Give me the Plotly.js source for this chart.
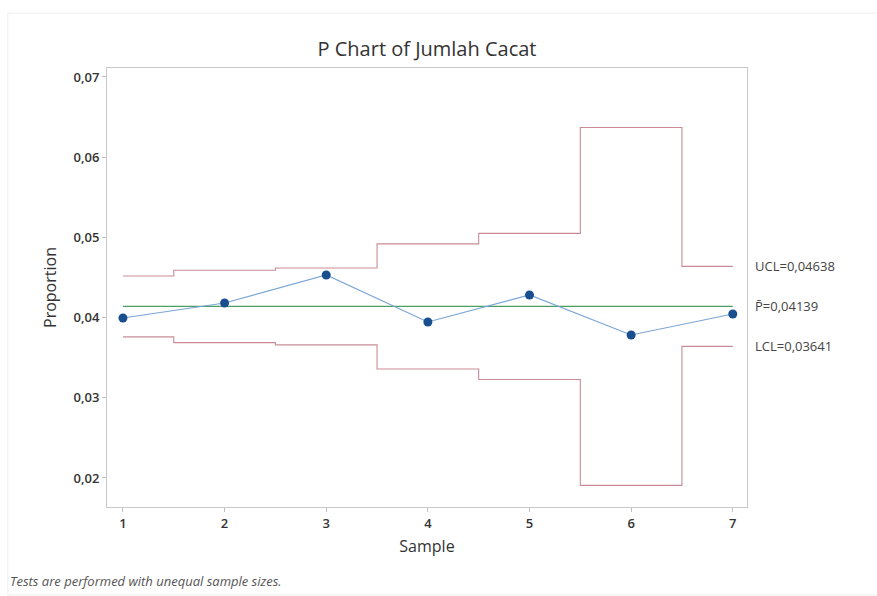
<!DOCTYPE html>
<html>
<head>
<meta charset="utf-8">
<script src="https://cdn.plot.ly/plotly-3.0.1.min.js"></script>
<style>html,body{margin:0;padding:0;background:#fff;}#chart{width:877px;height:596px;}</style>
</head>
<body>
<div id="chart"></div>
<script>
const samples = [1, 2, 3, 4, 5, 6, 7];
const proportion = [0.03995, 0.04182, 0.04531, 0.03945, 0.04282, 0.03783, 0.04045];
const ucl = [0.04519, 0.04590, 0.04618, 0.04919, 0.05050, 0.06370, 0.04638];
const lcl = [0.03759, 0.03688, 0.03660, 0.03359, 0.03228, 0.01908, 0.03641];
const centerLine = 0.04139;
const yTicks = [0.02, 0.03, 0.04, 0.05, 0.06, 0.07];
const labelUCL = "UCL=0,04638";
const labelP = "P\u0304=0,04139";
const labelLCL = "LCL=0,03641";
const footnote = "Tests are performed with unequal sample sizes.";

const font = "Open Sans, Noto Sans, sans-serif";
const limitColor = "#c98c96";

const traces = [
  {x: samples, y: ucl, mode: "lines", line: {shape: "hvh", color: limitColor, width: 1.1}, hoverinfo: "skip"},
  {x: samples, y: lcl, mode: "lines", line: {shape: "hvh", color: limitColor, width: 1.1}, hoverinfo: "skip"},
  {x: [samples[0], samples[samples.length - 1]], y: [centerLine, centerLine], mode: "lines", line: {color: "#4a9e63", width: 1.2}},
  {x: samples, y: proportion, mode: "lines+markers", line: {color: "#7aa6d6", width: 1.2},
   marker: {color: "#1a4f8f", size: 9}}
];

const last = samples[samples.length - 1];
const layout = {
  width: 877, height: 596,
  margin: {l: 107, r: 130, t: 68, b: 89},
  paper_bgcolor: "#ffffff", plot_bgcolor: "#ffffff",
  separators: ",.",
  showlegend: false,
  font: {family: font, color: "#333333"},
  title: {text: "P Chart of Jumlah Cacat", x: 0.5, xref: "paper", y: 0.93, yref: "container",
          font: {family: font, size: 20, color: "#333333", weight: 500}},
  xaxis: {range: [0.843, 7.14], tickvals: samples, ticks: "outside", ticklen: 4, tickcolor: "#bfbfbf",
          showgrid: false, zeroline: false, showline: true, mirror: true, linecolor: "#c8c8c8",
          tickfont: {size: 13, color: "#333", weight: 600},
          title: {text: "Sample", font: {size: 16, color: "#333"}, standoff: 10}},
  yaxis: {range: [0.01638, 0.07112], tickvals: yTicks, tickformat: ".2f", ticks: "outside", ticklen: 4,
          tickcolor: "#bfbfbf", showgrid: false, zeroline: false, showline: true, mirror: true,
          linecolor: "#c8c8c8", tickfont: {size: 13, color: "#333", weight: 600},
          title: {text: "Proportion", font: {size: 16, color: "#333"}, standoff: 12}},
  shapes: [
    {type: "rect", xref: "paper", yref: "paper", x0: -0.155, x1: 1.21, y0: -0.2, y1: 1.125,
     line: {color: "#efefef", width: 1}, fillcolor: "rgba(0,0,0,0)", layer: "below"}
  ],
  annotations: [
    {x: last, y: ucl[ucl.length - 1], xref: "x", yref: "y", text: labelUCL, showarrow: false,
     xanchor: "left", xshift: 20, font: {size: 13, color: "#444"}},
    {x: last, y: centerLine, xref: "x", yref: "y", text: labelP, showarrow: false,
     xanchor: "left", xshift: 20, font: {size: 13, color: "#444"}},
    {x: last, y: lcl[lcl.length - 1], xref: "x", yref: "y", text: labelLCL, showarrow: false,
     xanchor: "left", xshift: 20, font: {size: 13, color: "#444"}}
  ]
};
const plotW = 877 - 107 - 130, plotH = 596 - 68 - 89;
layout.annotations.push({x: (8 - 107) / plotW, y: (507 - 581) / plotH, xref: "paper", yref: "paper",
  text: "<i>" + footnote + "</i>", showarrow: false, xanchor: "left", yanchor: "middle",
  font: {size: 13, color: "#555"}});

Plotly.newPlot("chart", traces, layout, {displayModeBar: false, staticPlot: true});
</script>
</body>
</html>
